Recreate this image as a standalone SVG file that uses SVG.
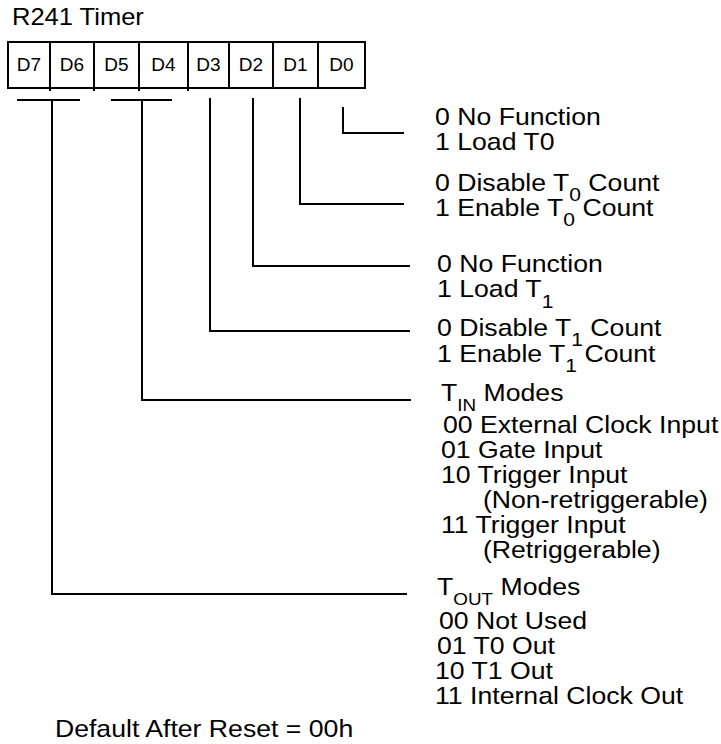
<svg xmlns="http://www.w3.org/2000/svg" width="721" height="744" viewBox="0 0 721 744">
<style>
.t{font-family:"Liberation Sans",Arial,Helvetica,sans-serif;font-size:24px;fill:#000}
.c{font-family:"Liberation Sans",Arial,Helvetica,sans-serif;font-size:19px;fill:#000;text-anchor:middle}
.s{font-size:19px}
.ss{font-size:17px}
.ln{fill:none;stroke:#000;stroke-width:2}
</style>
<rect width="721" height="744" fill="#fff"/>
<g id="title" class="t" transform="scale(1.11,1)"><text x="10.8" y="25" style="font-size:23px">R241 Timer</text></g>
<g id="register">
<rect class="ln" x="8" y="42" width="357" height="46"/>
<path class="ln" d="M50 42V91M94 42V91M139 42V91M188 42V91M229 42V88M273 42V88M318 42V88"/>
<text class="c" x="29" y="71">D7</text>
<text class="c" x="72" y="71">D6</text>
<text class="c" x="116.5" y="71">D5</text>
<text class="c" x="163.5" y="71">D4</text>
<text class="c" x="208.5" y="71">D3</text>
<text class="c" x="251" y="71">D2</text>
<text class="c" x="295.5" y="71">D1</text>
<text class="c" x="341.5" y="71">D0</text>
</g>
<g id="connectors" class="ln">
<path d="M17 100H80M52 100V594H407"/>
<path d="M111 100H172M142 100V400H411"/>
<path d="M210 98V331H410"/>
<path d="M253 98V266H410"/>
<path d="M300 98V204H404"/>
<path d="M343 107V133H404"/>
</g>
<g id="d0-desc" class="t" transform="scale(1.11,1)">
<text x="391.9" y="125">0 No Function</text>
<text x="391.9" y="150">1 Load T0</text>
</g>
<g id="d1-desc" class="t" transform="scale(1.11,1)">
<text x="391.9" y="191">0 Disable T<tspan class="s" dy="10">0</tspan><tspan dy="-10"> Count</tspan></text>
<text x="391.9" y="216">1 Enable T<tspan class="s" dy="10">0</tspan><tspan dy="-10"> Count</tspan></text>
</g>
<g id="d2-desc" class="t" transform="scale(1.11,1)">
<text x="393.7" y="272">0 No Function</text>
<text x="393.7" y="297">1 Load T<tspan class="s" dy="11">1</tspan></text>
</g>
<g id="d3-desc" class="t" transform="scale(1.11,1)">
<text x="393.7" y="336">0 Disable T<tspan class="s" dy="10">1</tspan><tspan dy="-10"> Count</tspan></text>
<text x="393.7" y="362">1 Enable T<tspan class="s" dy="10">1</tspan><tspan dy="-10"> Count</tspan></text>
</g>
<g id="tin-desc" class="t" transform="scale(1.11,1)">
<text x="397.3" y="401">T<tspan class="ss" dy="10">IN</tspan><tspan dy="-10"> Modes</tspan></text>
<text x="399.1" y="433">00 External Clock Input</text>
<text x="397.3" y="458">01 Gate Input</text>
<text x="397.3" y="483">10 Trigger Input</text>
<text x="435.1" y="508">(Non-retriggerable)</text>
<text x="397.3" y="533">11 Trigger Input</text>
<text x="435.1" y="558">(Retriggerable)</text>
</g>
<g id="tout-desc" class="t" transform="scale(1.11,1)">
<text x="393.7" y="595">T<tspan class="ss" dy="10">OUT</tspan><tspan dy="-10"> Modes</tspan></text>
<text x="395.5" y="629">00 Not Used</text>
<text x="393.7" y="654">01 T0 Out</text>
<text x="391.9" y="679">10 T1 Out</text>
<text x="391.9" y="704">11 Internal Clock Out</text>
</g>
<g id="default" class="t" transform="scale(1.11,1)"><text x="49.5" y="737">Default After Reset = 00h</text></g>
</svg>
